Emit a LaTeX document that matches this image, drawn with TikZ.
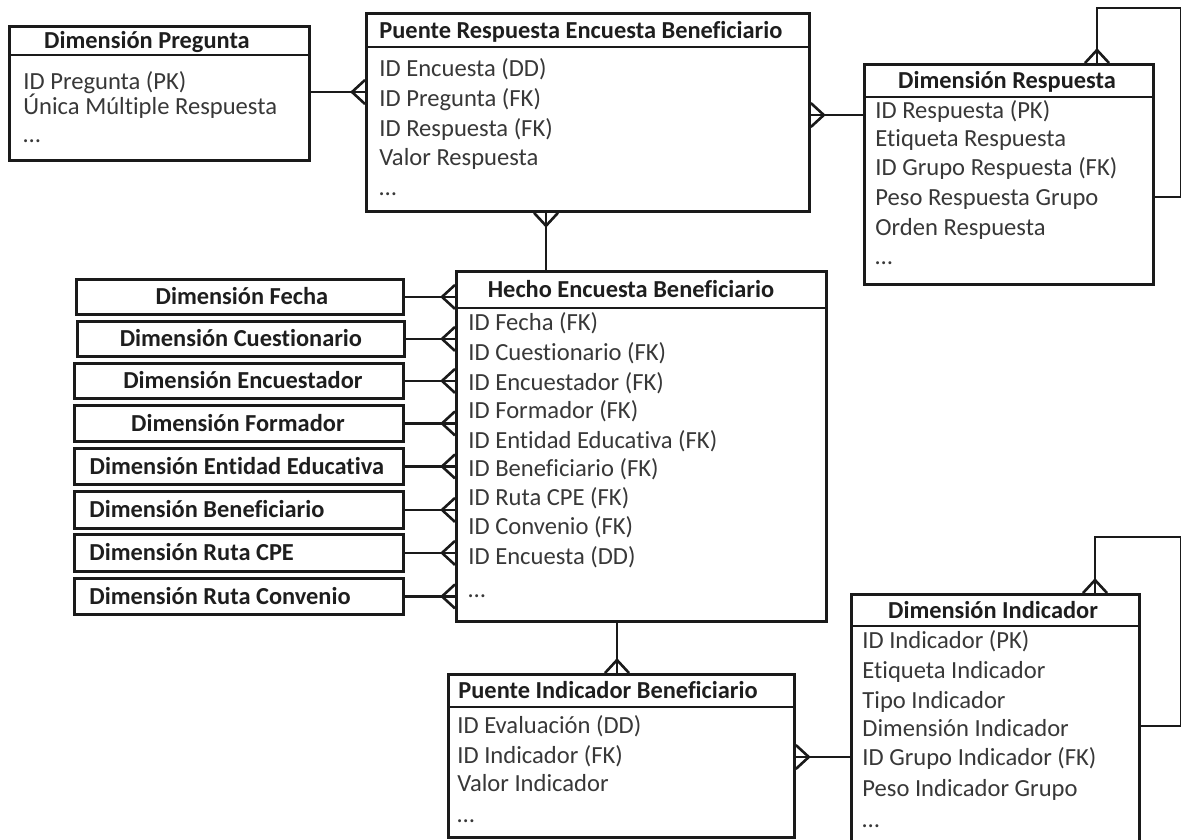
\documentclass[tikz,border=0pt]{standalone}
\usepackage{fontspec}
\setmainfont[Ligatures={NoCommon}]{Carlito}
\usetikzlibrary{calc}
\definecolor{linec}{HTML}{1A1A1A}
\definecolor{bodyc}{HTML}{383838}
\definecolor{titlec}{HTML}{1E1E1E}
\begin{document}
\begin{tikzpicture}[x=1pt,y=-1pt,
  line width=2.8pt, draw=linec,
  box/.style n args={2}{draw=linec, line width=2.8pt, anchor=north west, inner sep=0pt,
    minimum width=#1, minimum height=#2, fill=white},
  row/.style={anchor=base west, inner sep=0pt, text=bodyc, font=\fontsize{24.6}{28}\selectfont},
  ttl/.style={anchor=base west, inner sep=0pt, text=titlec, font=\fontsize{24.4}{28}\selectfont\bfseries},
  ttlc/.style={anchor=base, inner sep=0pt, text=titlec, font=\fontsize{24.4}{28}\selectfont\bfseries},
  crowW/.pic={\draw[linec, line width=2.6pt] (0,-12) -- (-13,0) -- (0,12);},
  crowE/.pic={\draw[linec, line width=2.6pt] (0,-12) -- (13,0) -- (0,12);},
  crowN/.pic={\draw[linec, line width=2.6pt] (-12,0) -- (0,-13) -- (12,0);},
  crowS/.pic={\draw[linec, line width=2.6pt] (-12,0) -- (0,13) -- (12,0);},
]
\useasboundingbox (0,0) rectangle (1181,839);
\fill[white] (0,0) rectangle (1181,839);

% ---------- Dimensión Pregunta ----------
\node[box={300pt}{134pt}] (dp) at (8,25) {};
\draw (dp.west |- 0,55) -- (dp.east |- 0,55);
\node[ttlc] (dpt) at (147,48) {Dimensión Pregunta};
\node[row] (dp1) at (22,89) {ID Pregunta (PK)};
\node[row] (dp2) at (22,114) {Única Múltiple Respuesta};
\node[row] (dp3) at (22,142) {…};

% ---------- Puente Respuesta Encuesta Beneficiario ----------
\node[box={443pt}{198pt}] (pre) at (365,12) {};
\draw (pre.west |- 0,47) -- (pre.east |- 0,47);
\node[ttl] (pret) at (378,38) {Puente Respuesta Encuesta Beneficiario};
\node[row] (pre1) at (378,76) {ID Encuesta (DD)};
\node[row] (pre2) at (378,106) {ID Pregunta (FK)};
\node[row] (pre3) at (378,136) {ID Respuesta (FK)};
\node[row] (pre4) at (378,165) {Valor Respuesta};
\node[row] (pre5) at (378,195) {…};

% ---------- Dimensión Respuesta ----------
\node[box={289pt}{220pt}] (dr) at (863,63) {};
\draw (dr.west |- 0,97) -- (dr.east |- 0,97);
\node[ttlc] (drt) at (1007,88) {Dimensión Respuesta};
\node[row] (dr1) at (874,118) {ID Respuesta (PK)};
\node[row] (dr2) at (874,146) {Etiqueta Respuesta};
\node[row] (dr3) at (874,175) {ID Grupo Respuesta (FK)};
\node[row] (dr4) at (874,205) {Peso Respuesta Grupo};
\node[row] (dr5) at (874,235) {Orden Respuesta};
\node[row] (dr6) at (874,264) {…};

% ---------- Hecho Encuesta Beneficiario ----------
\node[box={370pt}{350pt}] (he) at (455,270) {};
\draw (he.west |- 0,308) -- (he.east |- 0,308);
\node[ttlc] (het) at (631,297) {Hecho Encuesta Beneficiario};
\node[row] (he1) at (467,330) {ID Fecha (FK)};
\node[row] (he2) at (467,360) {ID Cuestionario (FK)};
\node[row] (he3) at (467,390) {ID Encuestador (FK)};
\node[row] (he4) at (467,418) {ID Formador (FK)};
\node[row] (he5) at (467,448) {ID Entidad Educativa (FK)};
\node[row] (he6) at (467,476) {ID Beneficiario (FK)};
\node[row] (he7) at (467,505) {ID Ruta CPE (FK)};
\node[row] (he8) at (467,534) {ID Convenio (FK)};
\node[row] (he9) at (467,564) {ID Encuesta (DD)};
\node[row] (he10) at (467,597) {…};

% ---------- dimensiones a la izquierda del hecho ----------
\node[box={327pt}{35pt}] (d1) at (75,278) {};
\node[ttlc] (d1t) at ($(d1.center)+(2,8)$) {Dimensión Fecha};
\node[box={327pt}{35pt}] (d2) at (76,320) {};
\node[ttlc] (d2t) at ($(d2.center)+(0,8)$) {Dimensión Cuestionario};
\node[box={329pt}{35pt}] (d3) at (73,362) {};
\node[ttlc] (d3t) at ($(d3.center)+(4,8)$) {Dimensión Encuestador};
\node[box={329pt}{36pt}] (d4) at (73,404) {};
\node[ttlc] (d4t) at ($(d4.center)+(-1,8)$) {Dimensión Formador};
\node[box={329pt}{36pt}] (d5) at (73,447) {};
\node[ttlc] (d5t) at ($(d5.center)+(-2,8)$) {Dimensión Entidad Educativa};
\node[box={329pt}{37pt}] (d6) at (73,490) {};
\node[ttl] (d6t) at ($(d6.west)+(15,8)$) {Dimensión Beneficiario};
\node[box={329pt}{37pt}] (d7) at (73,533) {};
\node[ttl] (d7t) at ($(d7.west)+(15,8)$) {Dimensión Ruta CPE};
\node[box={329pt}{36pt}] (d8) at (73,577) {};
\node[ttl] (d8t) at ($(d8.west)+(15,8)$) {Dimensión Ruta Convenio};

% ---------- Puente Indicador Beneficiario ----------
\node[box={346pt}{163pt}] (pi) at (447,673) {};
\draw (pi.west |- 0,707) -- (pi.east |- 0,707);
\node[ttl] (pit) at (457,698) {Puente Indicador Beneficiario};
\node[row] (pi1) at (456,733) {ID Evaluación (DD)};
\node[row] (pi2) at (456,763) {ID Indicador (FK)};
\node[row] (pi3) at (456,791) {Valor Indicador};
\node[row] (pi4) at (456,822) {…};

% ---------- Dimensión Indicador ----------
\node[box={288pt}{270pt}] (di) at (850,593) {};
\draw (di.west |- 0,626) -- (di.east |- 0,626);
\node[ttlc] (dit) at (993,618) {Dimensión Indicador};
\node[row] (di1) at (861,648) {ID Indicador (PK)};
\node[row] (di2) at (861,678) {Etiqueta Indicador};
\node[row] (di3) at (861,708) {Tipo Indicador};
\node[row] (di4) at (861,736) {Dimensión Indicador};
\node[row] (di5) at (861,765) {ID Grupo Indicador (FK)};
\node[row] (di6) at (861,796) {Peso Indicador Grupo};
\node[row] (di7) at (861,827) {…};

% ---------- relaciones ----------
\coordinate (yPR) at (0,92);
\coordinate (yRE) at (0,115);
\coordinate (xPH) at (546,0);
\coordinate (xHI) at (617,0);
\coordinate (yII) at (0,757);
\coordinate (loopR) at (1097,8);
\coordinate (loopRb) at (1181.5,197);
\coordinate (loopI) at (1095,537);
\coordinate (loopIb) at (1181.5,726);

\draw (dp.east |- yPR) -- (pre.west |- yPR);
\pic at (pre.west |- yPR) {crowW};

\draw (pre.east |- yRE) -- (dr.west |- yRE);
\pic at (pre.east |- yRE) {crowE};

\draw (pre.south -| xPH) -- (he.north -| xPH);
\pic at (pre.south -| xPH) {crowS};

\draw (dr.north -| loopR) -- (loopR) -| (loopRb) -- (dr.east |- loopRb);
\pic at (dr.north -| loopR) {crowN};

\foreach \d in {d1,d2,d3,d4,d5,d6,d7,d8}{
  \draw (\d.east) -- (\d.east -| he.west);
  \pic at (\d.east -| he.west) {crowW};
}

\draw (he.south -| xHI) -- (pi.north -| xHI);
\pic at (pi.north -| xHI) {crowN};

\draw (pi.east |- yII) -- (di.west |- yII);
\pic at (pi.east |- yII) {crowE};

\draw (di.north -| loopI) -- (loopI) -| (loopIb) -- (di.east |- loopIb);
\pic at (di.north -| loopI) {crowN};
\end{tikzpicture}
\end{document}
